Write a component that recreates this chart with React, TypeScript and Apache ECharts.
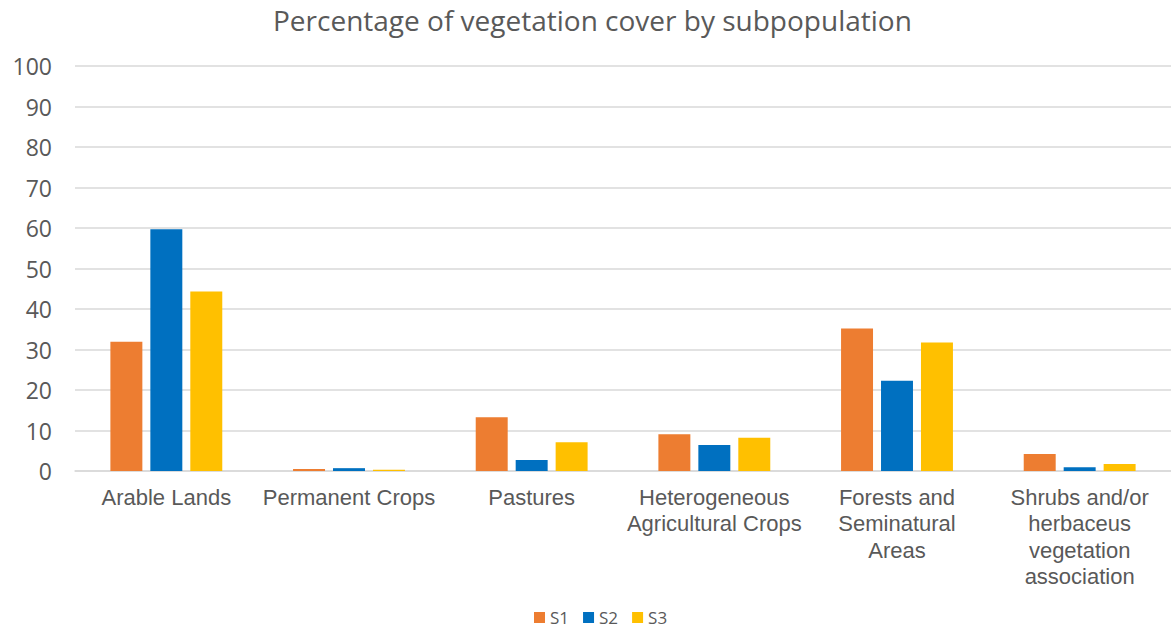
import React, { useEffect, useRef } from "react";
import * as echarts from "echarts";

const categories = [
  "Arable Lands",
  "Permanent Crops",
  "Pastures",
  "Heterogeneous\nAgricultural Crops",
  "Forests and\nSeminatural\nAreas",
  "Shrubs and/or\nherbaceus\nvegetation\nassociation",
];
const seriesNames = ["S1", "S2", "S3"];
const s1 = [31.9, 0.5, 13.3, 9.1, 35.2, 4.2];
const s2 = [59.7, 0.7, 2.7, 6.4, 22.3, 0.9];
const s3 = [44.3, 0.3, 7.1, 8.2, 31.7, 1.7];
const colors = ["#ED7D31", "#0070C0", "#FFC000"];

export default function App() {
  const ref = useRef<HTMLDivElement>(null);
  useEffect(() => {
    if (!ref.current) return;
    const chart = echarts.init(ref.current, null, { renderer: "svg" });
    const data = [s1, s2, s3];
    chart.setOption({
      animation: false,
      backgroundColor: "#ffffff",
      title: {
        text: "Percentage of vegetation cover by subpopulation",
        left: 268,
        top: 1,
        textStyle: {
          fontFamily: "Open Sans",
          fontWeight: "normal",
          fontSize: 28,
          color: "#595959",
        },
      },
      legend: {
        data: seriesNames,
        top: 609,
        left: 534,
        padding: 0,
        itemWidth: 11,
        itemHeight: 11,
        itemGap: 14,
        icon: "rect",
        textStyle: { fontFamily: "Open Sans", fontSize: 17, color: "#595959" },
      },
      grid: { left: 75, right: 0, top: 66, bottom: 157 },
      xAxis: {
        type: "category",
        data: categories,
        axisLine: { show: true, lineStyle: { color: "#d9d9d9", width: 1.5 } },
        axisTick: { show: false },
        axisLabel: {
          interval: 0,
          margin: 13,
          fontFamily: "Liberation Sans",
          fontSize: 22,
          lineHeight: 26.5,
          color: "#595959",
        },
      },
      yAxis: {
        type: "value",
        min: 0,
        max: 100,
        interval: 10,
        axisLine: { show: false },
        axisTick: { show: false },
        splitLine: { lineStyle: { color: "#d9d9d9", width: 1.5 } },
        axisLabel: {
          margin: 23,
          fontFamily: "Open Sans",
          fontSize: 23,
          color: "#595959",
        },
      },
      series: seriesNames.map((n, i) => ({
        name: n,
        type: "bar",
        data: data[i],
        barWidth: "17.5%",
        barGap: "25%",
        itemStyle: { color: colors[i] },
      })),
    });
    return () => chart.dispose();
  }, []);
  return (
    <div
      ref={ref}
      style={{ position: "fixed", left: 0, top: 0, width: 1171, height: 628 }}
    />
  );
}
